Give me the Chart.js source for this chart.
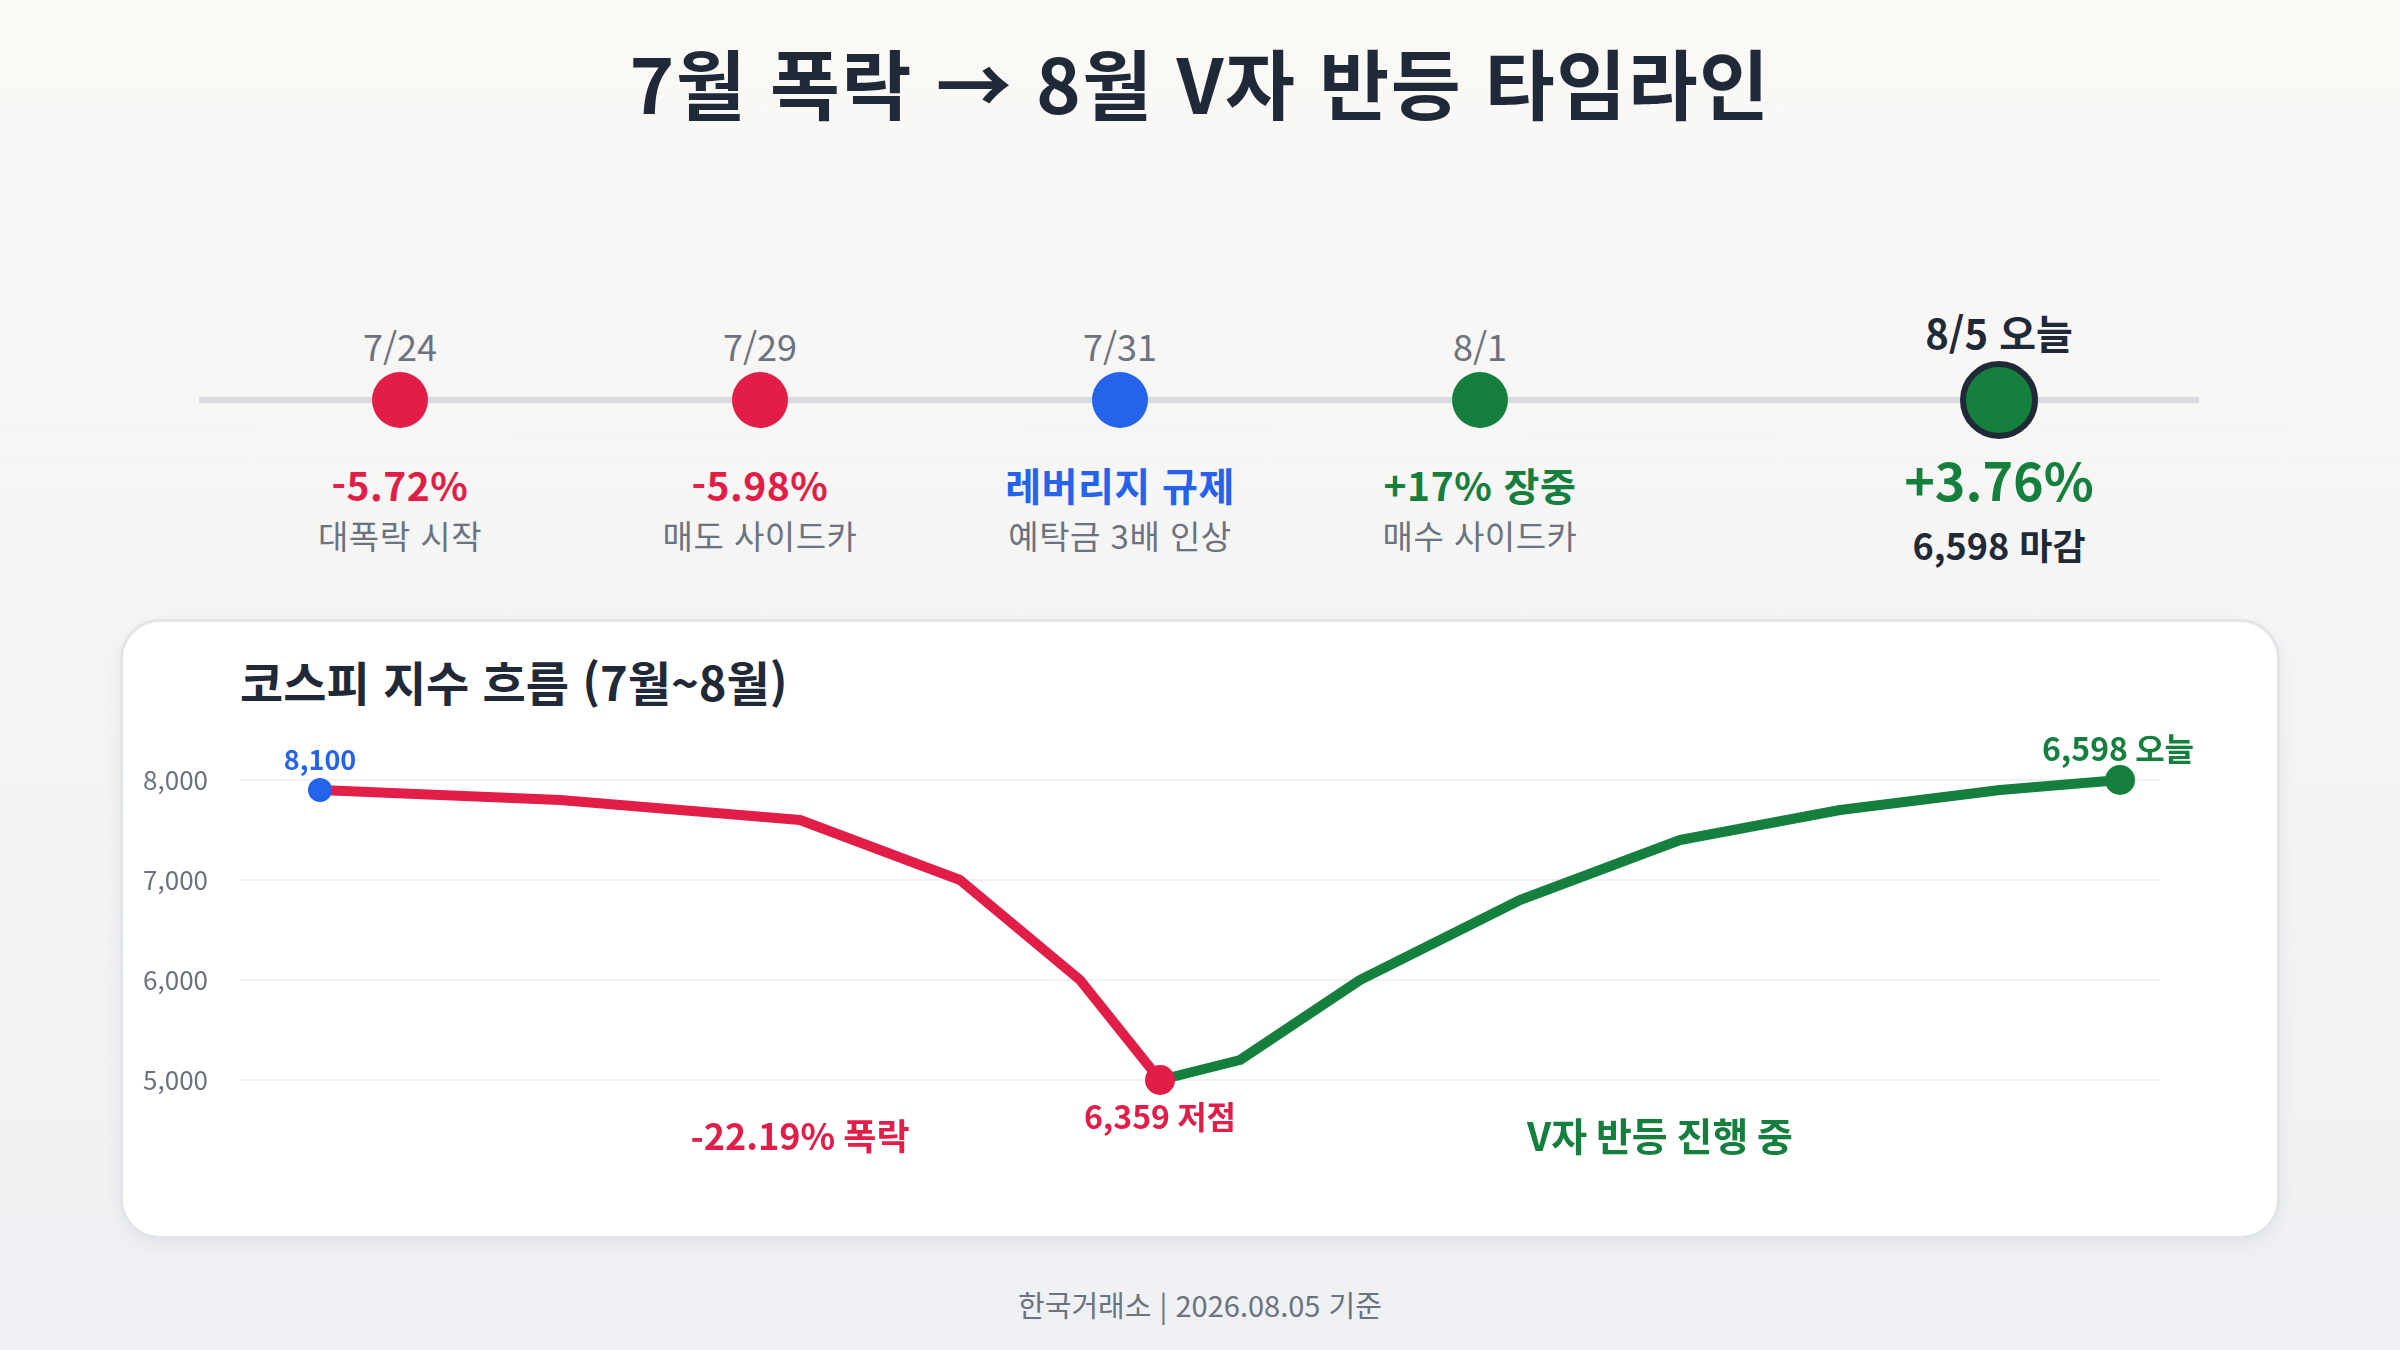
<!DOCTYPE html>
<html lang="ko">
<head>
<meta charset="utf-8">
<title>7월 폭락 → 8월 V자 반등 타임라인</title>
<script src="https://cdn.jsdelivr.net/npm/chart.js@4.4.1/dist/chart.umd.min.js"></script>
<style>
  html, body {
    margin: 0;
    padding: 0;
  }
  body {
    width: 2400px;
    height: 1350px;
    position: relative;
    overflow: hidden;
    font-family: 'Noto Sans CJK KR', 'Noto Sans', sans-serif;
    background: linear-gradient(180deg, #faf9f6 0%, #f4f4f4 50%, #eef0f3 100%);
    color: #1f2937;
  }
  .abs {
    position: absolute;
    line-height: 1;
    white-space: nowrap;
    transform: translate(-50%, -50%);
  }
  .title {
    left: 1200px;
    top: 81px;
    font-size: 76px;
    letter-spacing: 1.5px;
    font-weight: 700;
    color: #1f2937;
  }
  .track {
    position: absolute;
    left: 199px;
    top: 397px;
    width: 2000px;
    height: 6px;
    background: #d7dadf;
  }
  .dot {
    position: absolute;
    border-radius: 50%;
    transform: translate(-50%, -50%);
    box-sizing: border-box;
  }
  .date { font-size: 36px; color: #6b7280; }
  .date.today { font-size: 40px; font-weight: 700; color: #1f2937; }
  .change { font-size: 39px; font-weight: 700; letter-spacing: 0.5px; }
  .change.today { font-size: 52px; letter-spacing: 0; }
  .note { font-size: 33px; color: #6b7280; letter-spacing: 0.5px; }
  .note.today { font-size: 36px; font-weight: 700; color: #1f2937; letter-spacing: 0; }
  .card {
    position: absolute;
    left: 120px;
    top: 619px;
    width: 2160px;
    height: 620px;
    box-sizing: border-box;
    background: #ffffff;
    border: 3px solid #e1e4e8;
    border-radius: 40px;
    box-shadow: 0 6px 18px rgba(15, 23, 42, 0.06);
  }
  .card-title {
    position: absolute;
    left: 117px;
    top: 58px;
    transform: translateY(-50%);
    line-height: 1;
    font-size: 47px;
    font-weight: 700;
    color: #1f2937;
    white-space: nowrap;
  }
  .chart-box {
    position: absolute;
    left: 120px;
    top: 720px;
    width: 2160px;
    height: 480px;
  }
  .footer {
    left: 1200px;
    top: 1304px;
    font-size: 29px;
    color: #6b7280;
  }
</style>
</head>
<body>
  <div class="abs title">7월 폭락 → 8월 V자 반등 타임라인</div>

  <div class="track"></div>
  <div id="timeline"></div>

  <div class="card">
    <div class="card-title">코스피 지수 흐름 (7월~8월)</div>
  </div>
  <div class="chart-box"><canvas id="kospiChart"></canvas></div>

  <div class="abs footer">한국거래소 | 2026.08.05 기준</div>

<script>
// Timeline events
const eventDates = ['7/24', '7/29', '7/31', '8/1', '8/5 오늘'];
const eventHeadlines = ['-5.72%', '-5.98%', '레버리지 규제', '+17% 장중', '+3.76%'];
const eventNotes = ['대폭락 시작', '매도 사이드카', '예탁금 3배 인상', '매수 사이드카', '6,598 마감'];
const eventTones = ['down', 'down', 'policy', 'up', 'up'];

// KOSPI line (x = trading step, y = index level as drawn on the axis)
const xSteps = [0, 6, 12, 16, 19, 21, 23, 26, 30, 34, 38, 42, 45];
const kospiValues = [7900, 7800, 7600, 7000, 6000, 5000, 5200, 6000, 6800, 7400, 7700, 7900, 8000];
const yTicks = [5000, 6000, 7000, 8000];

// Point callouts
const startLabel = '8,100';
const lowLabel = '6,359 저점';
const todayLabel = '6,598 오늘';
const fallLabel = '-22.19% 폭락';
const reboundLabel = 'V자 반등 진행 중';

const RED = '#e11d48';
const GREEN = '#15803d';
const BLUE = '#2563eb';
const DARK = '#1f2937';
const toneColor = { down: RED, up: GREEN, policy: BLUE };

// Build the timeline
const timeline = document.getElementById('timeline');
eventDates.forEach((date, i) => {
    const isToday = i === eventDates.length - 1;
    const cx = isToday ? 1999 : 400 + i * 360;
    const color = toneColor[eventTones[i]];

    const dateEl = document.createElement('div');
    dateEl.className = 'abs date' + (isToday ? ' today' : '');
    dateEl.style.left = cx + 'px';
    dateEl.style.top = (isToday ? 332 : 345) + 'px';
    dateEl.textContent = date;
    timeline.appendChild(dateEl);

    const dot = document.createElement('div');
    dot.className = 'dot';
    const size = isToday ? 78 : 56;
    dot.style.width = size + 'px';
    dot.style.height = size + 'px';
    dot.style.left = cx + 'px';
    dot.style.top = '400px';
    dot.style.background = color;
    if (isToday) dot.style.border = '6px solid ' + DARK;
    timeline.appendChild(dot);

    const head = document.createElement('div');
    head.className = 'abs change' + (isToday ? ' today' : '');
    head.style.left = cx + 'px';
    head.style.top = (isToday ? 479 : 484) + 'px';
    head.style.color = color;
    head.textContent = eventHeadlines[i];
    timeline.appendChild(head);

    const note = document.createElement('div');
    note.className = 'abs note' + (isToday ? ' today' : '');
    note.style.left = cx + 'px';
    note.style.top = (isToday ? 544 : 535) + 'px';
    note.textContent = eventNotes[i];
    timeline.appendChild(note);
});

// Split the line at the low point
const lowIndex = kospiValues.indexOf(Math.min(...kospiValues));
const points = xSteps.map((x, i) => ({ x: x, y: kospiValues[i] }));
const fallPoints = points.slice(0, lowIndex + 1);
const reboundPoints = points.slice(lowIndex);

Chart.defaults.font.family = "'Noto Sans CJK KR', 'Noto Sans', sans-serif";

// Text callouts next to the line
const calloutPlugin = {
    id: 'callouts',
    afterDatasetsDraw(chart) {
        const ctx = chart.ctx;
        const xs = chart.scales.x;
        const ys = chart.scales.y;
        const fallMeta = chart.getDatasetMeta(0).data;
        const upMeta = chart.getDatasetMeta(1).data;
        const first = fallMeta[0];
        const low = fallMeta[fallMeta.length - 1];
        const last = upMeta[upMeta.length - 1];

        ctx.save();
        ctx.textAlign = 'center';
        ctx.textBaseline = 'middle';

        ctx.font = "700 27px 'Noto Sans CJK KR', sans-serif";
        ctx.fillStyle = BLUE;
        ctx.fillText(startLabel, first.x, first.y - 30);

        ctx.font = "700 32px 'Noto Sans CJK KR', sans-serif";
        ctx.fillStyle = RED;
        ctx.fillText(lowLabel, low.x, low.y + 37);
        ctx.fillStyle = GREEN;
        ctx.fillText(todayLabel, last.x - 2, last.y - 31);

        ctx.font = "700 36px 'Noto Sans CJK KR', sans-serif";
        ctx.fillStyle = RED;
        ctx.fillText(fallLabel, xs.getPixelForValue(xSteps[2]), ys.getPixelForValue(yTicks[0]) + 56);
        ctx.font = "700 39px 'Noto Sans CJK KR', sans-serif";
        ctx.fillStyle = GREEN;
        ctx.fillText(reboundLabel, xs.getPixelForValue(33.5), ys.getPixelForValue(yTicks[0]) + 56);
        ctx.restore();
    }
};

const ctxLine = document.getElementById('kospiChart').getContext('2d');
const kospiChart = new Chart(ctxLine, {
    type: 'line',
    data: {
        datasets: [
            {
                label: '폭락',
                data: fallPoints,
                borderColor: RED,
                borderWidth: 10,
                borderJoinStyle: 'round',
                borderCapStyle: 'round',
                tension: 0,
                pointRadius: (c) => (c.dataIndex === 0 ? 12 : c.dataIndex === fallPoints.length - 1 ? 15 : 0),
                pointBackgroundColor: (c) => (c.dataIndex === 0 ? BLUE : RED),
                pointBorderWidth: 0,
                clip: false
            },
            {
                label: '반등',
                data: reboundPoints,
                borderColor: GREEN,
                borderWidth: 10,
                borderJoinStyle: 'round',
                borderCapStyle: 'round',
                tension: 0,
                pointRadius: (c) => (c.dataIndex === reboundPoints.length - 1 ? 15 : 0),
                pointBackgroundColor: GREEN,
                pointBorderWidth: 0,
                clip: false
            }
        ]
    },
    options: {
        responsive: true,
        maintainAspectRatio: false,
        animation: false,
        layout: { padding: { top: 30, right: 120, bottom: 50, left: 0 } },
        plugins: {
            legend: { display: false },
            tooltip: { enabled: false }
        },
        scales: {
            x: {
                type: 'linear',
                min: -2,
                max: 46,
                display: false
            },
            y: {
                min: 4300,
                max: 8300,
                afterBuildTicks: (scale) => {
                    scale.ticks = yTicks.map((v) => ({ value: v }));
                },
                afterFit: (scale) => {
                    scale.width = 120;
                    scale.paddingTop = 0;
                    scale.paddingBottom = 0;
                },
                border: { display: false },
                grid: {
                    color: '#eef0f3',
                    lineWidth: 2,
                    drawTicks: false
                },
                ticks: {
                    padding: 32,
                    color: '#6b7280',
                    font: { size: 26 },
                    callback: (v) => v.toLocaleString('en-US')
                }
            }
        }
    },
    plugins: [calloutPlugin]
});
</script>
</body>
</html>
